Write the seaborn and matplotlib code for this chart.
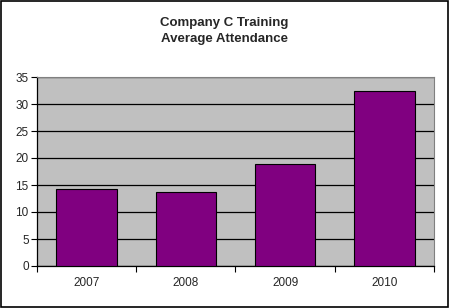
import matplotlib.pyplot as plt
import numpy as np
import pandas as pd
import seaborn as sns

years = ["2007", "2008", "2009", "2010"]
attendance = [14.2, 13.7, 18.8, 32.4]
y_ticks = [0, 5, 10, 15, 20, 25, 30, 35]

df = pd.DataFrame({"Year": years, "Attendance": attendance})

sns.set_style("white")
plt.rcParams["font.family"] = ["Liberation Sans", "DejaVu Sans"]

fig = plt.figure(figsize=(4.49, 3.08), dpi=100)
fig.patch.set_facecolor("white")
ax = fig.add_axes([37 / 449, 42 / 308, 397 / 449, 189 / 308])
ax.set_facecolor("#c0c0c0")

sns.barplot(data=df, x="Year", y="Attendance", color="#800080",
            saturation=1, width=0.61, edgecolor="black", linewidth=0.8,
            ax=ax, zorder=3)

ax.set_ylim(0, 35)
ax.set_xlim(-0.5, len(years) - 0.5)
ax.set_yticks(y_ticks)
ax.set_xlabel("")
ax.set_ylabel("")

# black gridlines like old Excel
ax.yaxis.grid(True, color="black", linewidth=0.9, zorder=1)
ax.xaxis.grid(False)

# ticks: x tick marks at category boundaries
ax.set_xticks(np.arange(-0.5, len(years)), minor=True)
ax.tick_params(axis="x", which="major", length=0, labelsize=8.5, pad=8)
ax.tick_params(axis="x", which="minor", length=4, width=0.8, direction="out",
               color="black", bottom=True)
ax.tick_params(axis="y", length=4, width=0.8, direction="out", color="black",
               left=True, labelsize=8.5, pad=2)

for side in ["top", "right"]:
    ax.spines[side].set_color("#808080")
    ax.spines[side].set_linewidth(0.8)
for side in ["left", "bottom"]:
    ax.spines[side].set_color("black")
    ax.spines[side].set_linewidth(0.9)

fig.text(0.5, 1 - 23 / 308, "Company C Training", ha="center", va="center",
         fontsize=9.5, fontweight="bold")
fig.text(0.5, 1 - 39 / 308, "Average Attendance", ha="center", va="center",
         fontsize=9.5, fontweight="bold")

# figure border
fig.add_artist(plt.Rectangle((0.002, 0.003), 0.996, 0.994, transform=fig.transFigure,
                             fill=False, edgecolor="black", linewidth=1.2))

fig.savefig("out.png", dpi=100)
